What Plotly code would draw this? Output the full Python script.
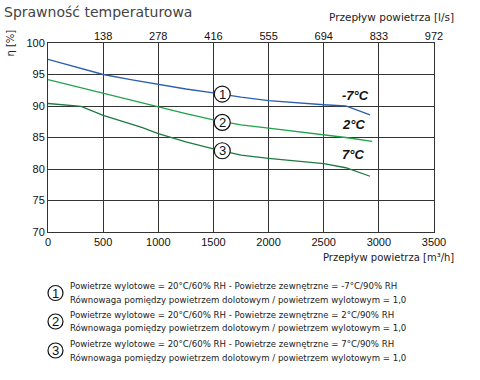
import plotly.graph_objects as go

# Air flow [m3/h] and temperature efficiency [%]
flow_1 = [0, 250, 500, 750, 1000, 1250, 1500, 1750, 2000, 2250, 2500, 2700, 2920]
eff_1 = [97.4, 96.2, 95.0, 94.2, 93.4, 92.7, 92.1, 91.4, 90.85, 90.5, 90.2, 90.0, 88.6]

flow_2 = [0, 250, 500, 750, 1000, 1250, 1500, 1750, 2000, 2250, 2500, 2700, 2940]
eff_2 = [94.2, 93.1, 92.0, 91.0, 89.9, 88.8, 87.8, 87.0, 86.5, 86.0, 85.5, 85.0, 84.4]

flow_3 = [0, 150, 300, 500, 650, 850, 1000, 1250, 1500, 1750, 2000, 2250, 2500, 2700, 2920]
eff_3 = [90.4, 90.2, 89.95, 88.5, 87.7, 86.6, 85.6, 84.3, 83.2, 82.2, 81.7, 81.3, 80.85, 80.2, 78.85]

series_names = ["-7°C", "2°C", "7°C"]
series_marks = ["1", "2", "3"]
series_colors = ["#2b5fae", "#1fa24a", "#1e7a42"]

x_ticks = [0, 500, 1000, 1500, 2000, 2500, 3000, 3500]
top_ticks = [500, 1000, 1500, 2000, 2500, 3000, 3500]
top_labels = ["138", "278", "416", "555", "694", "833", "972"]
y_ticks = [70, 75, 80, 85, 90, 95, 100]

legend_lines = [
    ["Powietrze wylotowe = 20°C/60% RH - Powietrze zewnętrzne = -7°C/90% RH",
     "Równowaga pomiędzy powietrzem dolotowym / powietrzem wylotowym = 1,0"],
    ["Powietrze wylotowe = 20°C/60% RH - Powietrze zewnętrzne = 2°C/90% RH",
     "Równowaga pomiędzy powietrzem dolotowym / powietrzem wylotowym = 1,0"],
    ["Powietrze wylotowe = 20°C/60% RH - Powietrze zewnętrzne = 7°C/90% RH",
     "Równowaga pomiędzy powietrzem dolotowym / powietrzem wylotowym = 1,0"],
]

# circle marker positions along the curves (x in m3/h)
mark_x = 1580
mark_y = [91.9, 87.4, 82.9]
label_x = 2650
label_y = [91.6, 87.1, 82.3]

# plot area geometry in pixels
L, R, T, B = 47.5, 46, 43, 148
PW, PH = 480 - L - R, 380 - T - B


def px(x):
    return (x - L) / PW


def py(y):
    return (380 - B - y) / PH


fig = go.Figure()
for fx, fy, col in zip([flow_1, flow_2, flow_3], [eff_1, eff_2, eff_3], series_colors):
    fig.add_trace(go.Scatter(x=fx, y=fy, mode="lines", line=dict(color=col, width=1.3),
                             hoverinfo="skip", showlegend=False))
# invisible trace to carry the top axis
fig.add_trace(go.Scatter(x=[0, 3500], y=[None, None], xaxis="x2", mode="lines",
                         showlegend=False, hoverinfo="skip"))

grid = "#333333"
fig.update_layout(
    width=480, height=380,
    margin=dict(l=L, r=R, t=T, b=B, autoexpand=False),
    paper_bgcolor="white", plot_bgcolor="white",
    showlegend=False,
    font=dict(family="Liberation Sans, Arial", size=11, color="#111"),
    xaxis=dict(range=[0, 3500], tickvals=x_ticks, showgrid=True, gridcolor=grid, gridwidth=1,
               zeroline=False, showline=True, linecolor=grid, linewidth=1, mirror=True,
               ticks="", ticklen=0, tickfont=dict(size=11), automargin=False),
    xaxis2=dict(range=[0, 3500], overlaying="x", side="top", tickvals=top_ticks,
                ticktext=top_labels, showgrid=False, zeroline=False, showline=False,
                ticks="", tickfont=dict(size=11), anchor="y", automargin=False),
    yaxis=dict(range=[70, 100], tickvals=y_ticks, showgrid=True, gridcolor=grid, gridwidth=1,
               zeroline=False, showline=True, linecolor=grid, linewidth=1, mirror=True,
               ticks="", tickfont=dict(size=11), automargin=False),
)

shapes = []
annotations = []
for i in range(3):
    shapes.append(dict(type="circle", xref="x", yref="y", xsizemode="pixel", ysizemode="pixel",
                       xanchor=mark_x, yanchor=mark_y[i], x0=-8, x1=8, y0=-8, y1=8,
                       fillcolor="white", line=dict(color="#111", width=1.2), layer="above"))
    annotations.append(dict(x=mark_x, y=mark_y[i], xref="x", yref="y", text=series_marks[i],
                            xanchor="center", yanchor="middle",
                            showarrow=False, font=dict(size=13, color="#111",
                                                       family="Liberation Sans, Arial")))
    annotations.append(dict(x=label_x, y=label_y[i], xref="x", yref="y", xanchor="left",
                            yanchor="middle",
                            text="<b><i>" + series_names[i] + "</i></b>", showarrow=False,
                            font=dict(size=13, color="#111", family="Liberation Sans, Arial")))

# legend block below chart
leg_cx = 55
leg_r = 7.5
leg_cy = [293, 321.5, 350.5]
leg_line_y = [[286, 299.5], [314.5, 328], [344, 357.5]]
for i in range(3):
    shapes.append(dict(type="circle", xref="paper", yref="paper",
                       x0=px(leg_cx - leg_r), x1=px(leg_cx + leg_r),
                       y0=py(leg_cy[i] + leg_r), y1=py(leg_cy[i] - leg_r),
                       fillcolor="white", line=dict(color="#111", width=1.2)))
    annotations.append(dict(xref="paper", yref="paper", x=px(leg_cx), y=py(leg_cy[i]),
                            xanchor="center", yanchor="middle",
                            text=series_marks[i], showarrow=False,
                            font=dict(size=13, color="#111")))
    for j in range(2):
        annotations.append(dict(xref="paper", yref="paper", x=px(68), y=py(leg_line_y[i][j]),
                                xanchor="left", yanchor="middle", showarrow=False,
                                text=legend_lines[i][j],
                                font=dict(size=8.6, color="#222", family="DejaVu Sans")))

# titles
annotations.append(dict(xref="paper", yref="paper", x=px(1), y=py(12),
                        xanchor="left", yanchor="middle", showarrow=False,
                        text="Sprawność temperaturowa",
                        font=dict(size=14, color="#444", family="DejaVu Sans")))
annotations.append(dict(xref="paper", yref="paper", x=px(456), y=py(17),
                        xanchor="right", yanchor="middle", showarrow=False,
                        text="Przepływ powietrza [l/s]",
                        font=dict(size=10.5, color="#222", family="DejaVu Sans")))
annotations.append(dict(xref="paper", yref="paper", x=px(456), y=py(257),
                        xanchor="right", yanchor="middle", showarrow=False,
                        text="Przepływ powietrza [m³/h]",
                        font=dict(size=10, color="#222", family="DejaVu Sans")))
annotations.append(dict(xref="paper", yref="paper", x=px(9), y=py(43),
                        xanchor="center", yanchor="middle", showarrow=False,
                        text="η [%]", textangle=-90,
                        font=dict(size=10, color="#222", family="DejaVu Sans")))

fig.update_layout(shapes=shapes, annotations=annotations)
fig.write_html("out.html", config={"displayModeBar": False},
               post_script="document.body.style.margin='0';")
